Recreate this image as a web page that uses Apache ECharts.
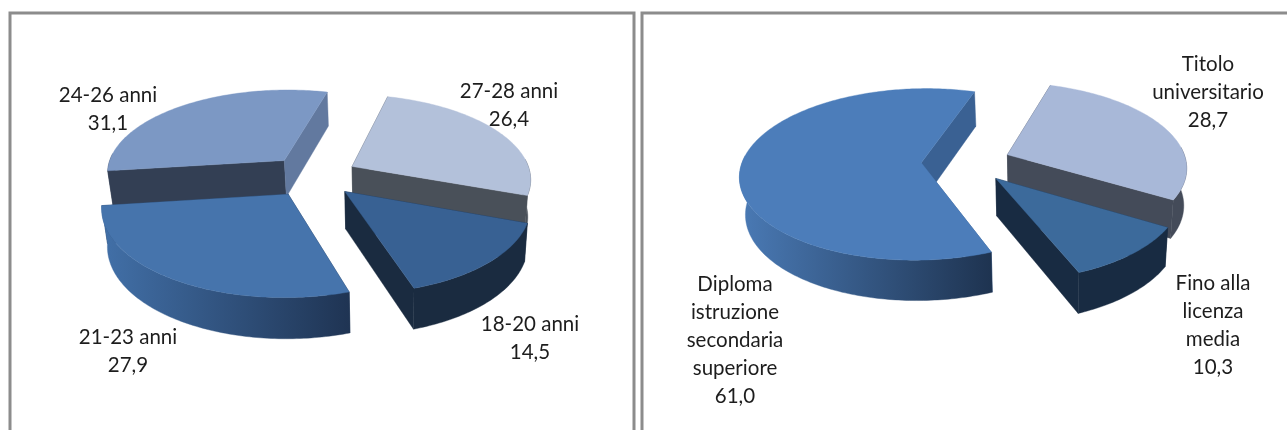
<!DOCTYPE html>
<html>
<head>
<meta charset="utf-8">
<style>html,body{margin:0;padding:0;background:#fff}#c{width:1287px;height:430px}</style>
<script src="https://cdn.jsdelivr.net/npm/echarts@6/dist/echarts.min.js"></script>
</head>
<body>
<div id="c"></div>
<script>
// ---- data ----
const ageNames = ['18-20 anni', '21-23 anni', '24-26 anni', '27-28 anni'];
const ageValues = [14.5, 27.9, 31.1, 26.4];
const eduNames = ['Fino alla\nlicenza\nmedia', 'Diploma\nistruzione\nsecondaria\nsuperiore', 'Titolo\nuniversitario'];
const eduValues = [10.3, 61.0, 28.7];

// ---- layout & styles ----
const ageLayout = {
  cx: 313, cy: 176, start: 110,
  paintRank: [3, 2, 0, 1],
  labelAt: [[530, 338], [128, 351], [108, 109], [509, 105]],
  top: ['#386193', '#4674ac', '#7c98c4', '#b3c1da'],
  outer: [['#1a2b40', '#1a2b40'], ['#4270a8', '#1f3453'], ['#333f54', '#333f54'], ['#495059', '#495059']],
  // wall along the slice's first edge, wall along its last edge
  walls: [['#1a2b40', '#1a2b40'], ['#1f3453', '#1f3453'], ['#333f54', '#62799f'], ['#495059', '#495059']]
};
const eduLayout = {
  cx: 966, cy: 162, start: 121,
  paintRank: [2, 0, 1],
  labelAt: [[1213, 325], [735, 340], [1208, 92]],
  top: ['#3c6a9b', '#4c7dba', '#a8b8d8'],
  outer: [['#182b42', '#182b42'], ['#4a7ab5', '#1e3350'], ['#444b59', '#444b59']],
  walls: [['#182b42', '#182b42'], ['#3a6193', '#3a6193'], ['#444b59', '#444b59']]
};
const RX = 179, RY = 84, PERSP = 0.135, EXPLODE = 0.25, DEPTH = 37;

function renderPie(layout, names, values) {
  const total = values.reduce((a, b) => a + b, 0);
  const starts = [];
  values.reduce((acc, v, i) => { starts[i] = acc; return acc + v / total * 360; }, layout.start);
  const rad = d => d * Math.PI / 180;
  return function (params, api) {
    const i = params.dataIndex;
    const val = api.value(0);
    const a0 = starts[i], a1 = a0 + val / total * 360, mid = (a0 + a1) / 2;
    const ox = EXPLODE * Math.sin(rad(mid)), oy = -EXPLODE * Math.cos(rad(mid));
    // project an in-plane point of the unit pie; lift=1 means the bottom face
    const proj = (u, v, lift) => {
      const w = 1 - PERSP * v;
      const sx = RX * u / w, sy = RY * v / w;
      return lift
        ? [layout.cx + sx * 0.98 + 1.5, layout.cy + sy + DEPTH / Math.pow(w, 0.6)]
        : [layout.cx + sx, layout.cy + sy];
    };
    const rim = (deg, lift) => proj(ox + Math.sin(rad(deg)), oy - Math.cos(rad(deg)), lift);
    const apex = lift => proj(ox, oy, lift);
    const arc = (from, to, lift) => {
      const pts = [], n = Math.max(2, Math.ceil(Math.abs(to - from)));
      for (let k = 0; k <= n; k++) pts.push(rim(from + (to - from) * k / n, lift));
      return pts;
    };
    const base = layout.paintRank[i] * 10;
    const children = [];
    const poly = (points, fill, z) => children.push({
      type: 'polygon', shape: { points }, z2: base + z, silent: true,
      style: { fill, stroke: fill, lineWidth: 0.4 }
    });
    // radial walls
    poly([apex(0), rim(a0, 0), rim(a0, 1), apex(1)], layout.walls[i][0], 1);
    poly([apex(0), rim(a1, 0), rim(a1, 1), apex(1)], layout.walls[i][1], 1);
    // outer wall: only the front half of the rim is visible
    const ranges = [[85, 275], [445, 635]];
    ranges.forEach(r => {
      const f = Math.max(a0, r[0]), t = Math.min(a1, r[1]);
      if (t > f) {
        const top = arc(f, t, 0), bot = arc(f, t, 1).reverse();
        const xs = top.concat(bot).map(p => p[0]);
        const fill = new echarts.graphic.LinearGradient(
          Math.min.apply(null, xs), 0, Math.max.apply(null, xs), 0,
          [{ offset: 0, color: layout.outer[i][0] }, { offset: 1, color: layout.outer[i][1] }], true);
        poly(top.concat(bot), fill, 2);
      }
    });
    // top face
    poly([apex(0)].concat(arc(a0, a1, 0)), layout.top[i], 3);
    // label
    children.push({
      type: 'text', z2: 100, silent: true,
      style: {
        text: names[i] + '\n' + val.toFixed(1).replace('.', ','),
        x: layout.labelAt[i][0], y: layout.labelAt[i][1],
        align: 'center', verticalAlign: 'middle', lineHeight: 28,
        font: '20.5px Lato, sans-serif', fill: '#1d1d1d'
      }
    });
    return { type: 'group', children };
  };
}

const chart = echarts.init(document.getElementById('c'), null, { renderer: 'canvas' });
chart.setOption({
  animation: false,
  backgroundColor: '#ffffff',
  graphic: [
    { type: 'rect', z: -1, silent: true, shape: { x: 10, y: 13, width: 624, height: 440 },
      style: { fill: '#fff', stroke: '#8c8c8c', lineWidth: 3 } },
    { type: 'rect', z: -1, silent: true, shape: { x: 642, y: 13, width: 700, height: 440 },
      style: { fill: '#fff', stroke: '#8c8c8c', lineWidth: 3 } }
  ],
  series: [
    { type: 'custom', coordinateSystem: 'none', name: 'Età',
      renderItem: renderPie(ageLayout, ageNames, ageValues),
      data: ageValues.map(v => [v]) },
    { type: 'custom', coordinateSystem: 'none', name: 'Titolo di studio',
      renderItem: renderPie(eduLayout, eduNames, eduValues),
      data: eduValues.map(v => [v]) }
  ]
});
</script>
</body>
</html>
